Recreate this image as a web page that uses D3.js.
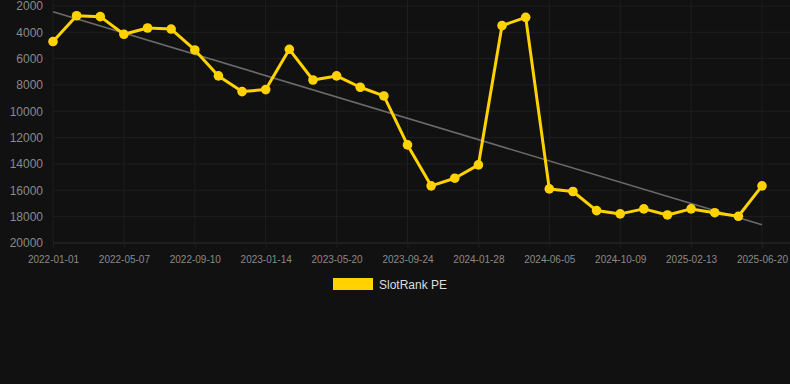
<!DOCTYPE html>
<html><head><meta charset="utf-8">
<script src="https://cdn.jsdelivr.net/npm/d3@7"></script>
<style>html,body{margin:0;padding:0;background:#111111;}svg{display:block;}</style>
</head><body>
<svg id="chart" width="790" height="384"></svg>
<script>
const dates = ["2022-01-01","2022-02-12","2022-03-26","2022-05-07","2022-06-18","2022-07-30","2022-09-10","2022-10-22","2022-12-03","2023-01-14","2023-02-25","2023-04-08","2023-05-20","2023-07-01","2023-08-12","2023-09-24","2023-11-05","2023-12-17","2024-01-28","2024-03-10","2024-04-21","2024-06-05","2024-07-17","2024-08-28","2024-10-09","2024-11-20","2025-01-01","2025-02-13","2025-03-27","2025-05-08","2025-06-20"];
const values = [4700,2740,2810,4150,3670,3750,5340,7310,8500,8350,5290,7620,7310,8170,8830,12550,15660,15080,14070,3490,2860,15890,16090,17540,17790,17410,17870,17410,17700,17970,15660];
const trendValues = [2430,18620];
const yTicks = [2000,4000,6000,8000,10000,12000,14000,16000,18000,20000];
const xTickLabels = dates.filter((d,i)=>i%3===0);
const seriesName = "SlotRank PE";

const svg = d3.select("#chart");
const mLeft=53, mRight=762, mTop=6, mBottom=243;
const x = d3.scalePoint().domain(dates).range([mLeft,mRight]);
const y = d3.scaleLinear().domain([2000,20000]).range([mTop,mBottom]);

// grid
svg.append("g").selectAll("line").data(yTicks).join("line")
  .attr("x1",mLeft).attr("x2",790).attr("y1",d=>y(d)).attr("y2",d=>y(d))
  .attr("stroke",d=>d===20000?"#2e2e2e":"#1f1f1f").attr("stroke-width",1);
svg.append("g").selectAll("line").data(xTickLabels).join("line")
  .attr("x1",d=>x(d)).attr("x2",d=>x(d)).attr("y1",0).attr("y2",mBottom)
  .attr("stroke","#1f1f1f").attr("stroke-width",1);

// y axis labels
const yAxis = d3.axisLeft(y).tickValues(yTicks).tickSize(0).tickPadding(10).tickFormat(d3.format("d"));
const ya = svg.append("g").attr("transform",`translate(${mLeft},0)`).call(yAxis);
ya.select(".domain").remove();
ya.selectAll("text").attr("fill","#8a8a8a").style("font-family","Liberation Sans, Arial, sans-serif").style("font-size","12px");

// x axis labels
const xAxis = d3.axisBottom(x).tickValues(xTickLabels).tickSize(5).tickPadding(8);
const xa = svg.append("g").attr("transform",`translate(0,${mBottom})`).call(xAxis);
xa.select(".domain").remove();
xa.selectAll(".tick line").attr("stroke","#1f1f1f");
xa.selectAll("text").attr("fill","#8a8a8a").style("font-family","Liberation Sans, Arial, sans-serif").style("font-size","10px");

// trend line
svg.append("line")
  .attr("x1",x(dates[0])).attr("y1",y(trendValues[0]))
  .attr("x2",x(dates[dates.length-1])).attr("y2",y(trendValues[1]))
  .attr("stroke","#6b6b6b").attr("stroke-width",1.6);

// series line
const line = d3.line().x((d,i)=>x(dates[i])).y(d=>y(d));
svg.append("path").datum(values).attr("d",line)
  .attr("fill","none").attr("stroke","#FFD200").attr("stroke-width",3).attr("stroke-linejoin","round");
svg.append("g").selectAll("circle").data(values).join("circle")
  .attr("cx",(d,i)=>x(dates[i])).attr("cy",d=>y(d)).attr("r",4.8).attr("fill","#FFD200");

// legend
svg.append("rect").attr("x",333).attr("y",278).attr("width",40).attr("height",12).attr("fill","#FFD200");
svg.append("text").attr("x",379).attr("y",288.5).text(seriesName)
  .attr("fill","#dddddd").style("font-family","Liberation Sans, Arial, sans-serif").style("font-size","12px");
</script>
</body></html>
